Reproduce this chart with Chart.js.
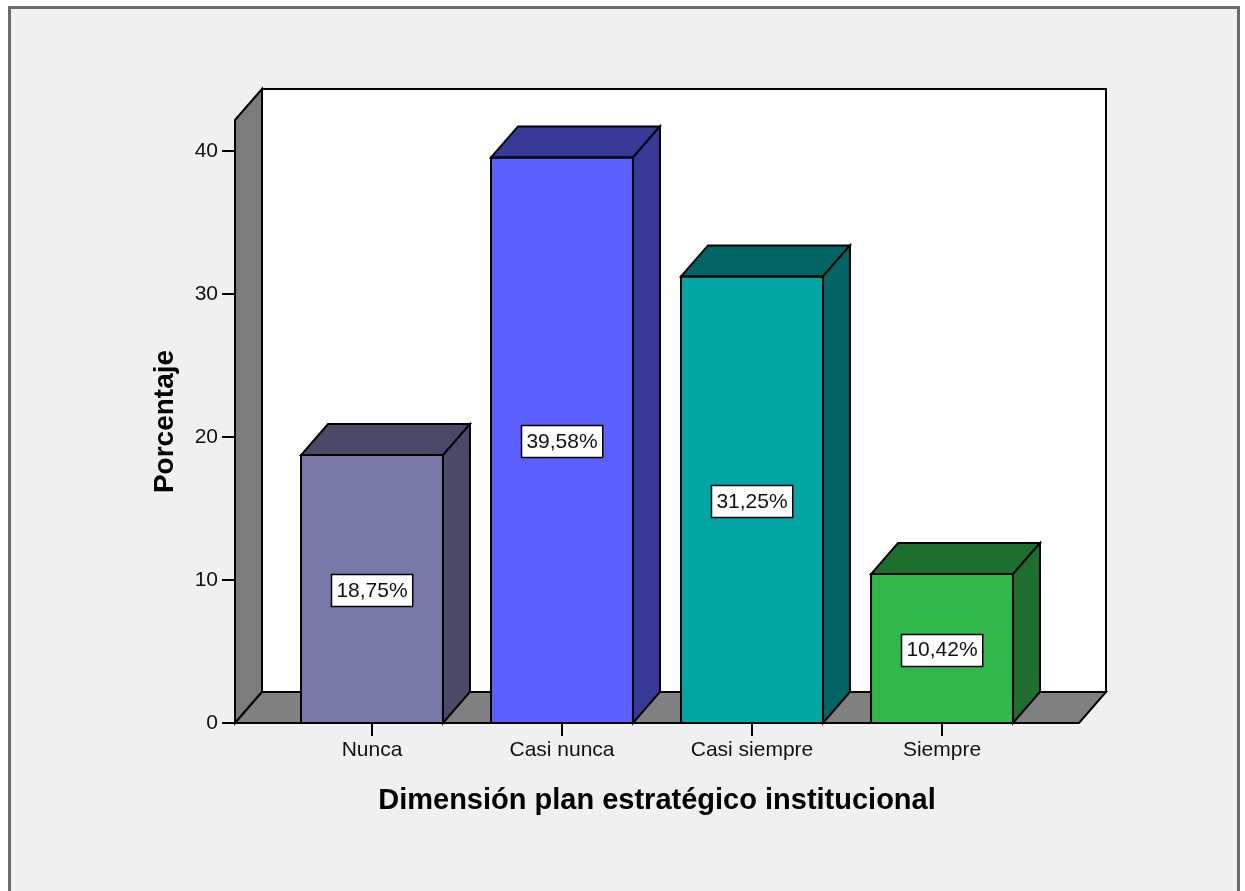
<!DOCTYPE html>
<html>
<head>
<meta charset="utf-8">
<script src="https://cdn.jsdelivr.net/npm/chart.js@4/dist/chart.umd.min.js"></script>
<style>
  html, body { margin: 0; padding: 0; background: #ffffff; }
  #wrap { width: 1245px; height: 891px; position: relative; }
</style>
</head>
<body>
<div id="wrap"><canvas id="c" width="1245" height="891"></canvas></div>
<script>
// Survey answers for the strategic-plan dimension
const categories = ['Nunca', 'Casi nunca', 'Casi siempre', 'Siempre'];
const percentages = [18.75, 39.58, 31.25, 10.42];
const frontColors = ['#7879a8', '#5c60ff', '#00a6a4', '#30b94a'];
const shadeColors = ['#4a4a68', '#383898', '#006464', '#1e6e2e'];
const yTickStep = 10;
const yMax = 42.2;

const FONT = "'Liberation Sans', Arial, sans-serif";
const DEPTH_X = 27;   // horizontal depth of the 3D box
const DEPTH_Y = 31;   // vertical depth of the 3D box
const WALL_PAD = 42;  // floor extends past the outer categories

function fmt(v) { return v.toFixed(2).replace('.', ',') + '%'; }

function poly(ctx, pts, fill) {
  ctx.beginPath();
  ctx.moveTo(pts[0][0], pts[0][1]);
  for (let i = 1; i < pts.length; i++) ctx.lineTo(pts[i][0], pts[i][1]);
  ctx.closePath();
  ctx.fillStyle = fill;
  ctx.fill();
  ctx.lineWidth = 2;
  ctx.strokeStyle = '#000000';
  ctx.lineJoin = 'miter';
  ctx.stroke();
}

const box3d = {
  id: 'box3d',
  beforeDraw(chart) {
    const ctx = chart.ctx;
    ctx.save();
    ctx.fillStyle = '#ffffff';
    ctx.fillRect(0, 0, chart.width, chart.height);
    ctx.fillStyle = '#f0f0f0';
    ctx.fillRect(9, 7, 1230, chart.height);
    ctx.strokeStyle = '#6c6c6c';
    ctx.lineWidth = 3;
    ctx.strokeRect(9.5, 7.5, 1229, chart.height + 10);
    ctx.restore();
  },
  beforeDatasetsDraw(chart) {
    const ctx = chart.ctx;
    const a = chart.chartArea;
    const L = a.left - WALL_PAD, R = a.right + WALL_PAD;
    const T = a.top, B = a.bottom;
    ctx.save();
    // back wall
    poly(ctx, [[L + DEPTH_X, T - DEPTH_Y], [R + DEPTH_X, T - DEPTH_Y], [R + DEPTH_X, B - DEPTH_Y], [L + DEPTH_X, B - DEPTH_Y]], '#ffffff');
    // left wall
    poly(ctx, [[L, T], [L + DEPTH_X, T - DEPTH_Y], [L + DEPTH_X, B - DEPTH_Y], [L, B]], '#7c7c7c');
    // floor
    poly(ctx, [[L, B], [L + DEPTH_X, B - DEPTH_Y], [R + DEPTH_X, B - DEPTH_Y], [R, B]], '#808080');
    // value-axis tick marks on the front edge
    const ys = chart.scales.y;
    ctx.strokeStyle = '#000000';
    ctx.lineWidth = 2;
    ys.ticks.forEach(t => {
      const py = Math.round(ys.getPixelForValue(t.value));
      ctx.beginPath();
      ctx.moveTo(L - 13, py);
      ctx.lineTo(L, py);
      ctx.stroke();
    });
    ctx.restore();
  },
  afterDatasetsDraw(chart) {
    const ctx = chart.ctx;
    const meta = chart.getDatasetMeta(0);
    ctx.save();
    meta.data.forEach((bar, i) => {
      const p = bar.getProps(['x', 'y', 'base', 'width'], true);
      const l = p.x - p.width / 2, r = p.x + p.width / 2;
      const top = p.y, base = p.base;
      poly(ctx, [[l, top], [l + DEPTH_X, top - DEPTH_Y], [r + DEPTH_X, top - DEPTH_Y], [r, top]], shadeColors[i]);
      poly(ctx, [[r, top], [r + DEPTH_X, top - DEPTH_Y], [r + DEPTH_X, base - DEPTH_Y], [r, base]], shadeColors[i]);
      ctx.beginPath();
      ctx.rect(l, top, r - l, base - top);
      ctx.lineWidth = 2;
      ctx.strokeStyle = '#000000';
      ctx.stroke();
    });
    // value labels in the middle of each bar
    ctx.font = '21px ' + FONT;
    ctx.textAlign = 'center';
    ctx.textBaseline = 'middle';
    meta.data.forEach((bar, i) => {
      const p = bar.getProps(['x', 'y', 'base'], true);
      const cy = (p.y + p.base) / 2;
      const txt = fmt(percentages[i]);
      const w = ctx.measureText(txt).width + 10;
      const h = 32;
      const bx = Math.round(p.x - w / 2) + 0.5, by = Math.round(cy - h / 2 + 1) + 0.5;
      ctx.fillStyle = '#ffffff';
      ctx.fillRect(bx, by, w, h);
      ctx.lineWidth = 1.5;
      ctx.strokeStyle = '#000000';
      ctx.strokeRect(bx, by, w, h);
      ctx.fillStyle = '#111111';
      ctx.fillText(txt, p.x, cy + 2);
    });
    ctx.restore();
  }
};

new Chart(document.getElementById('c'), {
  type: 'bar',
  data: {
    labels: categories,
    datasets: [{
      data: percentages,
      backgroundColor: frontColors,
      borderColor: '#000000',
      borderWidth: 0,
      barPercentage: 1,
      categoryPercentage: 0.747
    }]
  },
  options: {
    responsive: false,
    animation: false,
    events: [],
    layout: { padding: { top: 120, right: 208, bottom: 0, left: 0 } },
    plugins: { legend: { display: false }, tooltip: { enabled: false } },
    scales: {
      x: {
        offset: true,
        border: { display: false },
        grid: { offset: false, drawOnChartArea: false, drawTicks: true, tickLength: 13, color: '#000000', lineWidth: 2 },
        ticks: { color: '#111111', font: { family: FONT, size: 21 }, padding: 2, maxRotation: 0 },
        title: {
          display: true,
          text: 'Dimensión plan estratégico institucional',
          color: '#000000',
          font: { family: FONT, size: 29, weight: 'bold' },
          padding: { top: 0, bottom: 73 }
        },
        afterFit(scale) { scale.height = 168; }
      },
      y: {
        min: 0,
        max: yMax,
        border: { display: false },
        grid: { display: false, drawTicks: false },
        ticks: {
          stepSize: yTickStep,
          color: '#111111',
          font: { family: FONT, size: 21 },
          padding: 59
        },
        afterBuildTicks(scale) {
          scale.ticks = scale.ticks.filter(t => t.value % yTickStep === 0);
        },
        title: {
          display: true,
          text: 'Porcentaje',
          color: '#000000',
          font: { family: FONT, size: 28, weight: 'bold' },
          padding: { top: 148, bottom: 0 }
        },
        afterFit(scale) { scale.width = 277; }
      }
    }
  },
  plugins: [box3d]
});
</script>
</body>
</html>
